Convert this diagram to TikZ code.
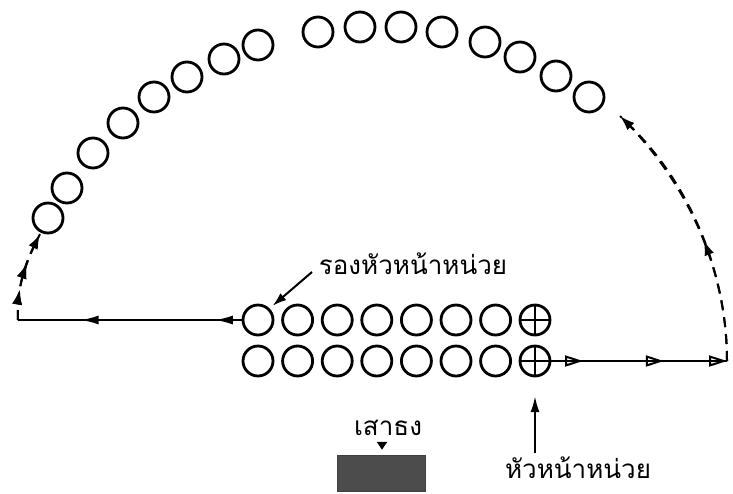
\documentclass[tikz,border=0pt]{standalone}
\usepackage{fontspec}
\newfontfamily\thaifont[Script=Thai]{Loma}
\usetikzlibrary{arrows.meta,decorations.markings}

\tikzset{
  scout/.style={draw,circle,line width=2.8pt,minimum size=30pt,inner sep=0pt},
  leader/.style={scout,path picture={
      \draw[line width=2.2pt] (path picture bounding box.north) -- (path picture bounding box.south)
        (path picture bounding box.west) -- (path picture bounding box.east);}},
  thtext/.style={font=\thaifont\fontsize{26}{28}\selectfont,inner sep=1pt},
  march/.style={line width=2pt},
  solidtips/.style={postaction={decorate},decoration={markings,
      mark=at position 0.12 with {\arrow{Latex[length=18pt,width=9pt]}},
      mark=at position 0.72 with {\arrow{Latex[length=18pt,width=9pt]}}}},
  opentips/.style={postaction={decorate},decoration={markings,
      mark=at position 0.18 with {\arrow{Triangle[open,length=18pt,width=11pt]}},
      mark=at position 0.64 with {\arrow{Triangle[open,length=18pt,width=11pt]}},
      mark=at position 1.0 with {\arrow{Triangle[open,length=18pt,width=11pt]}}}},
  dashtips/.style={dashed,dash pattern=on 10pt off 7pt,postaction={decorate},decoration={markings,
      mark=at position #1 with {\arrow{Latex[length=15pt,width=10pt]}}}},
}

\begin{document}
\begin{tikzpicture}[x=1pt,y=-1pt]
  \useasboundingbox (0,0) rectangle (733,493);

  % circle of scouts
  \foreach \px/\py [count=\i] in {48/218,67/188,93/153,123/123,154/97,187/77,224/59,258/45,
      318/32,360/27,401/27,442/32,485/42,520/57,556/76,589/97}
    \node[scout] (a\i) at (\px,\py) {};

  % two files
  \foreach \i in {1,...,7} {
    \node[scout] (u\i) at ({258+39.6*(\i-1)},320) {};
    \node[scout] (d\i) at ({258+39.6*(\i-1)},361) {};
  }
  \node[leader] (u8) at (535,320) {};
  \node[leader] (d8) at (535,361) {};

  % corners of the march
  \coordinate (lc) at (18,320);
  \coordinate (le) at (40,234);
  \coordinate (rc) at (727,361);
  \coordinate (re) at (620,116);

  \draw[march,solidtips] (u1.west) -- (lc);
  \draw[march,opentips] (d8.east) -- (rc);
  \draw[march,dashtips=0.34,dashtips=0.64] (lc) .. controls (16,285) and (28,258) .. (le);
  \draw[march,-{Latex[length=15pt,width=10pt]},dashed,dash pattern=on 10pt off 7pt] (lc) .. controls (16,285) and (28,258) .. (le);
  \draw[march,dashtips=0.45] (rc) .. controls (727,270) and (688,182) .. (re);
  \draw[march,-{Latex[length=15pt,width=10pt]},dashed,dash pattern=on 10pt off 7pt] (rc) .. controls (727,270) and (688,182) .. (re);

  % labels
  \node[thtext] (sub) at (413,264) {รองหัวหน้าหน่วย};
  \coordinate (sa) at (312,272);
  \draw[line width=2pt,-{Latex[length=14pt,width=9pt]},shorten >=4pt] (sa) -- (u1.north east);

  \node[thtext] (lead) at (578,468) {หัวหน้าหน่วย};
  \coordinate (lt) at (535,396);
  \draw[line width=2.2pt,-{Latex[length=16pt,width=9pt]}] (535,453) -- (lt);

  \node[thtext] (flag) at (388,428) {เสาธง};
  \node[draw=gray!50!black,fill=gray!60!black,minimum width=88pt,minimum height=36pt,inner sep=0pt] (pole) at (381,473) {};
  \draw[line width=2.4pt,-{Triangle[length=8pt,width=10pt]},shorten >=5pt] (382,442) -- (pole.north -| 382,0);
\end{tikzpicture}
\end{document}
